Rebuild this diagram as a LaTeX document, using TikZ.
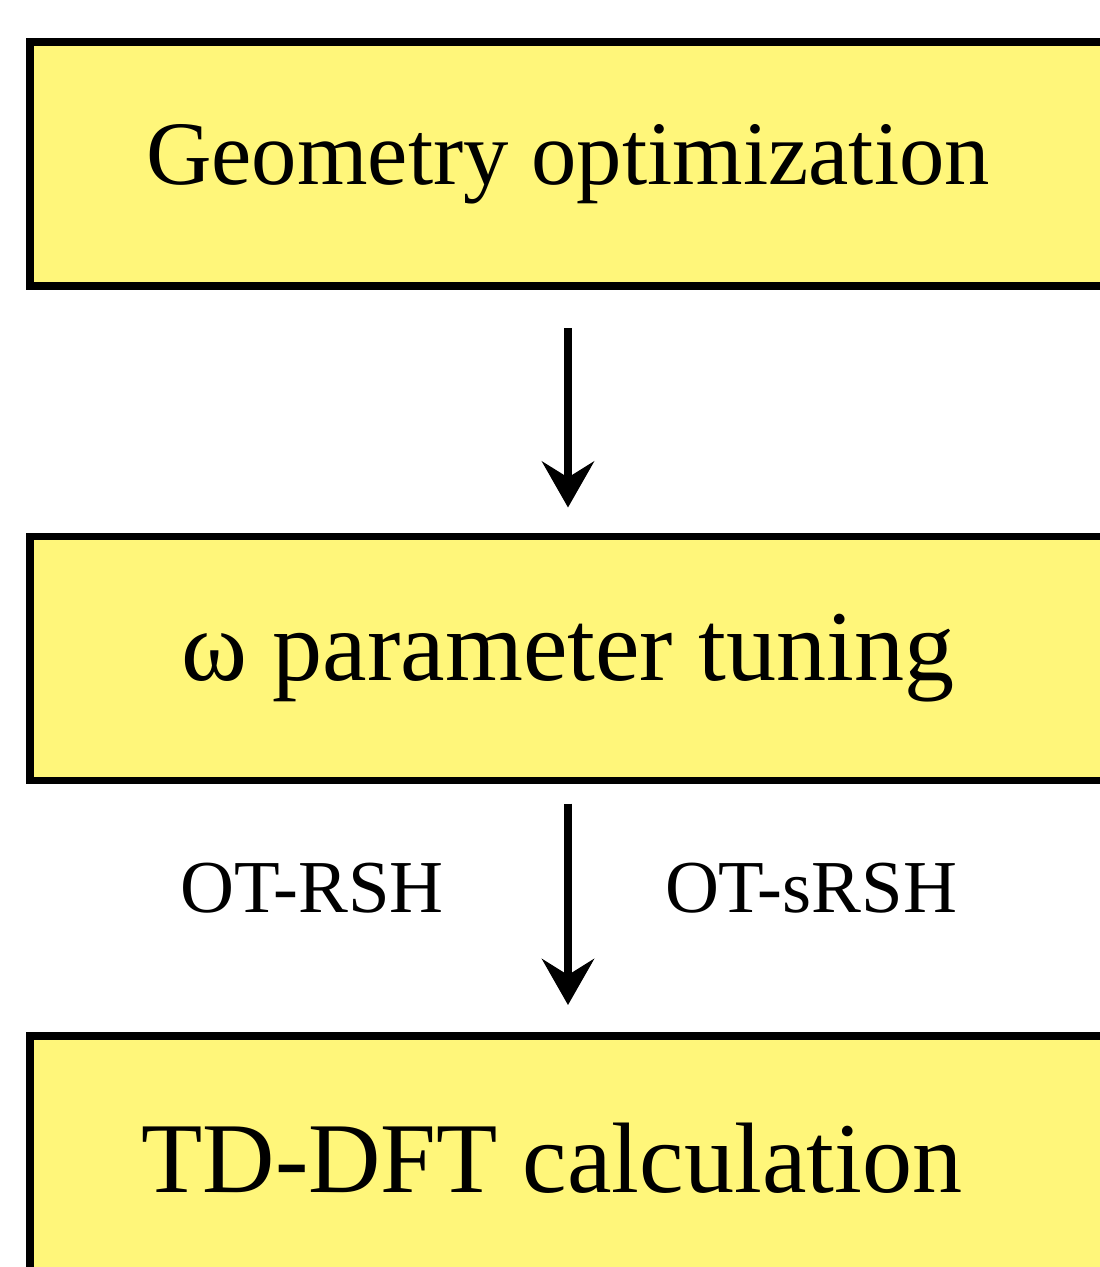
\documentclass[tikz,border=0pt]{standalone}
\usepackage{fontspec}
\setmainfont{Liberation Serif}
\usetikzlibrary{arrows.meta}
\definecolor{boxyellow}{RGB}{255,246,122}
\tikzset{
  stagebox/.style={draw=black, fill=boxyellow, line width=4.3pt, outer sep=0pt,
    minimum width=21.52cm, minimum height=4.88cm, inner sep=0pt,
    font=\fontsize{57}{62}\selectfont},
  flow/.style={->, line width=4.3pt},
  branch/.style={font=\fontsize{42.5}{48}\selectfont}
}
\begin{document}
\begin{tikzpicture}[>={Stealth[length=0.92cm,width=1.04cm,inset=0.32cm]}]
            \clip (0,0) rectangle (22,-25.34);
            \useasboundingbox (0,0) rectangle (22,-25.34);
            \node[stagebox, font=\fontsize{51.6}{57}\selectfont] (geom) at (11.36,-3.28) {Geometry optimization};
            \node[stagebox] (tune) at (11.36,-13.17) {ω parameter tuning};
            \node[stagebox] (tddft) at (11.36,-23.16) {TD-DFT calculation\hspace*{0.64cm}};
            \draw[flow, shorten <=0.84cm, shorten >=0.58cm] (geom.south) -- (tune.north);
            \draw[flow, shorten <=0.46cm, shorten >=0.62cm] (tune.south) -- (tddft.north);
            \node[branch] (rsh) at (6.24,-17.76) {OT-RSH};
            \node[branch] (srsh) at (16.22,-17.76) {OT-sRSH};
        \end{tikzpicture}
\end{document}
